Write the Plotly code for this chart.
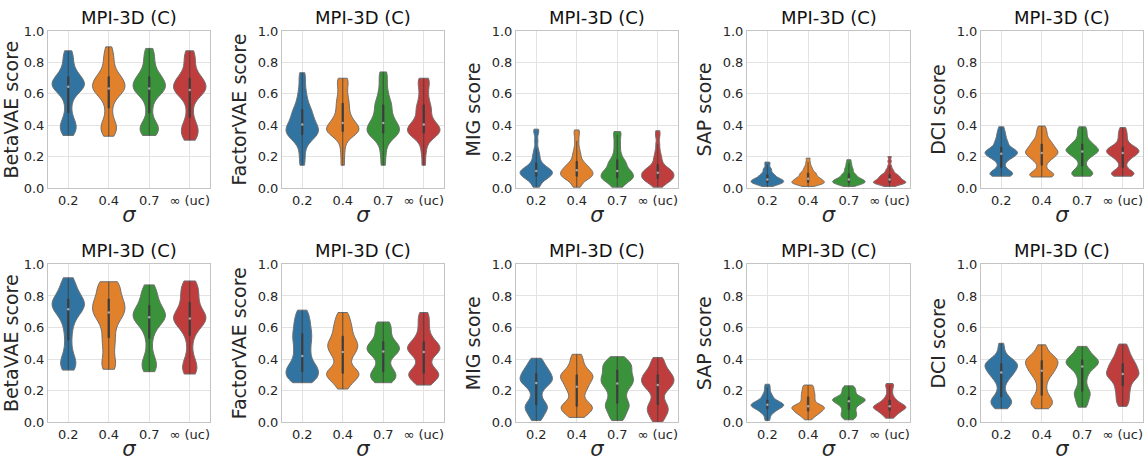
import statistics
import plotly.graph_objects as go

# Category labels along each x axis
sigma_labels = ["0.2", "0.4", "0.7", "∞ (uc)"]
colors = ["#3274a1", "#e1812c", "#3a923a", "#c03d3e"]

# Score samples per sigma setting (0.2, 0.4, 0.7, uncorrelated)
betavae_a = [
    [0.335, 0.35, 0.37, 0.39, 0.40, 0.415, 0.44, 0.48, 0.53, 0.57, 0.60, 0.62, 0.63, 0.635, 0.64, 0.65, 0.66, 0.665, 0.67, 0.68, 0.69, 0.70, 0.71, 0.72, 0.74, 0.76, 0.79, 0.82, 0.85, 0.875],
    [0.33, 0.35, 0.37, 0.39, 0.40, 0.42, 0.46, 0.51, 0.55, 0.58, 0.60, 0.61, 0.62, 0.625, 0.63, 0.64, 0.65, 0.66, 0.67, 0.68, 0.69, 0.70, 0.71, 0.72, 0.74, 0.77, 0.80, 0.83, 0.86, 0.90],
    [0.335, 0.345, 0.36, 0.38, 0.39, 0.40, 0.42, 0.48, 0.53, 0.57, 0.60, 0.61, 0.62, 0.625, 0.63, 0.64, 0.65, 0.66, 0.67, 0.68, 0.69, 0.70, 0.71, 0.725, 0.74, 0.77, 0.80, 0.83, 0.86, 0.89],
    [0.305, 0.32, 0.34, 0.36, 0.38, 0.39, 0.41, 0.45, 0.50, 0.55, 0.58, 0.60, 0.61, 0.615, 0.62, 0.63, 0.64, 0.65, 0.66, 0.67, 0.68, 0.69, 0.70, 0.71, 0.73, 0.76, 0.79, 0.82, 0.85, 0.875],
]
factorvae_a = [
    [0.145, 0.20, 0.25, 0.29, 0.31, 0.32, 0.33, 0.34, 0.35, 0.36, 0.365, 0.37, 0.38, 0.39, 0.40, 0.41, 0.42, 0.43, 0.45, 0.46, 0.47, 0.49, 0.50, 0.52, 0.54, 0.57, 0.60, 0.64, 0.69, 0.735],
    [0.145, 0.22, 0.28, 0.32, 0.34, 0.35, 0.355, 0.36, 0.365, 0.37, 0.375, 0.38, 0.39, 0.40, 0.41, 0.42, 0.43, 0.44, 0.46, 0.48, 0.50, 0.52, 0.54, 0.56, 0.58, 0.61, 0.64, 0.67, 0.69, 0.70],
    [0.145, 0.21, 0.26, 0.30, 0.32, 0.33, 0.34, 0.35, 0.36, 0.365, 0.37, 0.38, 0.39, 0.40, 0.41, 0.42, 0.43, 0.45, 0.46, 0.48, 0.50, 0.52, 0.53, 0.55, 0.57, 0.60, 0.63, 0.67, 0.71, 0.74],
    [0.145, 0.22, 0.27, 0.31, 0.33, 0.34, 0.345, 0.35, 0.355, 0.36, 0.37, 0.38, 0.39, 0.395, 0.40, 0.41, 0.42, 0.44, 0.46, 0.48, 0.50, 0.51, 0.53, 0.55, 0.58, 0.61, 0.64, 0.67, 0.69, 0.70],
]
mig_a = [
    [0.005, 0.02, 0.04, 0.05, 0.06, 0.065, 0.07, 0.075, 0.08, 0.085, 0.09, 0.095, 0.10, 0.10, 0.105, 0.11, 0.115, 0.12, 0.125, 0.13, 0.14, 0.15, 0.16, 0.18, 0.20, 0.22, 0.25, 0.30, 0.35, 0.375],
    [0.005, 0.02, 0.04, 0.05, 0.06, 0.065, 0.07, 0.075, 0.08, 0.085, 0.09, 0.095, 0.10, 0.105, 0.11, 0.115, 0.12, 0.13, 0.135, 0.14, 0.15, 0.16, 0.17, 0.19, 0.21, 0.23, 0.26, 0.30, 0.34, 0.37],
    [0.005, 0.015, 0.03, 0.04, 0.05, 0.055, 0.06, 0.065, 0.07, 0.075, 0.08, 0.09, 0.095, 0.10, 0.105, 0.11, 0.12, 0.13, 0.14, 0.15, 0.16, 0.17, 0.18, 0.20, 0.22, 0.25, 0.28, 0.31, 0.34, 0.36],
    [0.005, 0.015, 0.03, 0.04, 0.045, 0.05, 0.055, 0.06, 0.065, 0.07, 0.075, 0.08, 0.085, 0.09, 0.095, 0.10, 0.105, 0.11, 0.115, 0.12, 0.13, 0.14, 0.15, 0.17, 0.19, 0.21, 0.24, 0.28, 0.33, 0.365],
]
sap_a = [
    [0.01, 0.015, 0.02, 0.025, 0.028, 0.03, 0.032, 0.035, 0.037, 0.04, 0.042, 0.045, 0.048, 0.05, 0.052, 0.055, 0.058, 0.06, 0.065, 0.07, 0.075, 0.08, 0.085, 0.09, 0.10, 0.11, 0.12, 0.13, 0.15, 0.165],
    [0.01, 0.015, 0.02, 0.025, 0.028, 0.03, 0.032, 0.035, 0.038, 0.04, 0.043, 0.046, 0.05, 0.053, 0.056, 0.06, 0.064, 0.068, 0.072, 0.078, 0.085, 0.09, 0.095, 0.10, 0.11, 0.12, 0.13, 0.145, 0.165, 0.19],
    [0.01, 0.015, 0.02, 0.025, 0.028, 0.03, 0.032, 0.035, 0.038, 0.04, 0.042, 0.045, 0.048, 0.05, 0.053, 0.056, 0.06, 0.064, 0.068, 0.074, 0.08, 0.085, 0.09, 0.10, 0.11, 0.12, 0.13, 0.145, 0.16, 0.18],
    [0.01, 0.015, 0.02, 0.025, 0.028, 0.03, 0.032, 0.034, 0.036, 0.038, 0.04, 0.043, 0.046, 0.05, 0.053, 0.056, 0.06, 0.064, 0.068, 0.072, 0.076, 0.08, 0.085, 0.09, 0.10, 0.11, 0.12, 0.14, 0.17, 0.20],
]
dci_a = [
    [0.075, 0.08, 0.085, 0.09, 0.095, 0.10, 0.11, 0.13, 0.16, 0.18, 0.19, 0.20, 0.205, 0.21, 0.215, 0.22, 0.225, 0.23, 0.235, 0.24, 0.245, 0.25, 0.26, 0.28, 0.29, 0.30, 0.32, 0.34, 0.36, 0.39],
    [0.07, 0.075, 0.08, 0.085, 0.09, 0.10, 0.12, 0.145, 0.17, 0.18, 0.19, 0.20, 0.21, 0.215, 0.22, 0.225, 0.23, 0.24, 0.245, 0.25, 0.26, 0.27, 0.28, 0.285, 0.30, 0.31, 0.33, 0.35, 0.37, 0.395],
    [0.075, 0.08, 0.085, 0.09, 0.10, 0.11, 0.12, 0.14, 0.17, 0.19, 0.20, 0.21, 0.22, 0.225, 0.23, 0.235, 0.24, 0.245, 0.25, 0.255, 0.26, 0.27, 0.28, 0.285, 0.295, 0.31, 0.33, 0.35, 0.37, 0.39],
    [0.075, 0.08, 0.085, 0.09, 0.095, 0.10, 0.11, 0.13, 0.16, 0.18, 0.19, 0.20, 0.21, 0.215, 0.22, 0.225, 0.23, 0.235, 0.24, 0.245, 0.25, 0.255, 0.26, 0.27, 0.28, 0.30, 0.32, 0.34, 0.36, 0.385],
]
betavae_b = [
    [0.33, 0.345, 0.36, 0.38, 0.40, 0.42, 0.47, 0.52, 0.57, 0.61, 0.64, 0.67, 0.69, 0.70, 0.71, 0.72, 0.73, 0.74, 0.75, 0.76, 0.765, 0.77, 0.78, 0.80, 0.81, 0.83, 0.85, 0.87, 0.90, 0.915],
    [0.335, 0.35, 0.37, 0.40, 0.44, 0.48, 0.51, 0.535, 0.57, 0.60, 0.63, 0.65, 0.67, 0.68, 0.69, 0.70, 0.71, 0.72, 0.74, 0.75, 0.76, 0.77, 0.78, 0.80, 0.82, 0.84, 0.86, 0.875, 0.885, 0.89],
    [0.32, 0.335, 0.35, 0.37, 0.39, 0.41, 0.47, 0.53, 0.57, 0.60, 0.62, 0.635, 0.645, 0.655, 0.66, 0.67, 0.675, 0.68, 0.69, 0.70, 0.71, 0.72, 0.74, 0.75, 0.77, 0.79, 0.81, 0.83, 0.85, 0.87],
    [0.305, 0.32, 0.34, 0.36, 0.38, 0.42, 0.49, 0.55, 0.58, 0.60, 0.62, 0.63, 0.64, 0.65, 0.655, 0.66, 0.67, 0.68, 0.69, 0.70, 0.72, 0.74, 0.76, 0.78, 0.80, 0.82, 0.84, 0.86, 0.88, 0.895],
]
factorvae_b = [
    [0.25, 0.26, 0.27, 0.28, 0.29, 0.30, 0.31, 0.32, 0.33, 0.34, 0.35, 0.36, 0.37, 0.39, 0.41, 0.43, 0.45, 0.47, 0.49, 0.51, 0.53, 0.545, 0.56, 0.58, 0.60, 0.62, 0.64, 0.66, 0.69, 0.71],
    [0.21, 0.24, 0.26, 0.28, 0.29, 0.30, 0.305, 0.31, 0.32, 0.33, 0.35, 0.38, 0.41, 0.43, 0.44, 0.45, 0.47, 0.48, 0.49, 0.50, 0.51, 0.52, 0.545, 0.56, 0.58, 0.60, 0.62, 0.64, 0.67, 0.695],
    [0.25, 0.26, 0.27, 0.28, 0.29, 0.30, 0.31, 0.32, 0.33, 0.35, 0.38, 0.41, 0.43, 0.44, 0.445, 0.45, 0.46, 0.47, 0.475, 0.48, 0.49, 0.50, 0.51, 0.53, 0.55, 0.57, 0.59, 0.61, 0.625, 0.635],
    [0.235, 0.25, 0.27, 0.28, 0.29, 0.30, 0.305, 0.31, 0.32, 0.33, 0.35, 0.38, 0.41, 0.43, 0.44, 0.45, 0.46, 0.465, 0.47, 0.48, 0.49, 0.50, 0.51, 0.53, 0.55, 0.58, 0.61, 0.64, 0.67, 0.695],
]
mig_b = [
    [0.01, 0.03, 0.05, 0.07, 0.08, 0.09, 0.10, 0.11, 0.12, 0.14, 0.17, 0.20, 0.22, 0.24, 0.245, 0.25, 0.26, 0.27, 0.275, 0.28, 0.29, 0.30, 0.31, 0.32, 0.33, 0.34, 0.35, 0.37, 0.39, 0.405],
    [0.03, 0.04, 0.06, 0.07, 0.08, 0.09, 0.095, 0.10, 0.11, 0.12, 0.14, 0.17, 0.19, 0.21, 0.22, 0.23, 0.25, 0.26, 0.27, 0.28, 0.29, 0.30, 0.30, 0.31, 0.32, 0.34, 0.36, 0.38, 0.41, 0.43],
    [0.01, 0.03, 0.05, 0.07, 0.09, 0.10, 0.11, 0.12, 0.14, 0.16, 0.18, 0.20, 0.22, 0.23, 0.24, 0.25, 0.26, 0.27, 0.28, 0.29, 0.30, 0.31, 0.33, 0.34, 0.35, 0.36, 0.37, 0.38, 0.40, 0.415],
    [0.0, 0.02, 0.04, 0.06, 0.07, 0.08, 0.09, 0.11, 0.12, 0.14, 0.17, 0.20, 0.21, 0.22, 0.23, 0.24, 0.25, 0.26, 0.265, 0.27, 0.28, 0.29, 0.30, 0.31, 0.32, 0.33, 0.35, 0.37, 0.39, 0.41],
]
sap_b = [
    [0.01, 0.03, 0.05, 0.06, 0.07, 0.075, 0.08, 0.085, 0.09, 0.095, 0.10, 0.10, 0.105, 0.105, 0.11, 0.11, 0.115, 0.12, 0.12, 0.125, 0.13, 0.135, 0.14, 0.15, 0.16, 0.17, 0.18, 0.20, 0.22, 0.24],
    [0.015, 0.03, 0.04, 0.05, 0.055, 0.06, 0.065, 0.07, 0.075, 0.08, 0.085, 0.09, 0.09, 0.095, 0.10, 0.10, 0.105, 0.11, 0.12, 0.13, 0.14, 0.15, 0.16, 0.17, 0.18, 0.19, 0.20, 0.215, 0.225, 0.235],
    [0.015, 0.025, 0.035, 0.045, 0.05, 0.06, 0.07, 0.08, 0.09, 0.10, 0.11, 0.115, 0.12, 0.125, 0.13, 0.135, 0.14, 0.14, 0.145, 0.15, 0.15, 0.155, 0.16, 0.17, 0.18, 0.19, 0.20, 0.21, 0.22, 0.23],
    [0.025, 0.035, 0.045, 0.055, 0.06, 0.065, 0.07, 0.075, 0.08, 0.085, 0.09, 0.09, 0.095, 0.095, 0.10, 0.10, 0.105, 0.11, 0.115, 0.12, 0.125, 0.13, 0.14, 0.15, 0.16, 0.18, 0.20, 0.22, 0.235, 0.245],
]
dci_b = [
    [0.085, 0.10, 0.11, 0.12, 0.13, 0.14, 0.15, 0.16, 0.19, 0.23, 0.26, 0.28, 0.29, 0.30, 0.31, 0.32, 0.33, 0.34, 0.345, 0.35, 0.36, 0.365, 0.37, 0.38, 0.385, 0.39, 0.40, 0.42, 0.46, 0.50],
    [0.085, 0.10, 0.11, 0.12, 0.13, 0.14, 0.155, 0.17, 0.20, 0.23, 0.26, 0.28, 0.30, 0.31, 0.32, 0.33, 0.34, 0.35, 0.36, 0.37, 0.375, 0.38, 0.39, 0.40, 0.405, 0.41, 0.42, 0.44, 0.47, 0.49],
    [0.095, 0.11, 0.13, 0.15, 0.17, 0.18, 0.19, 0.195, 0.22, 0.25, 0.28, 0.30, 0.32, 0.34, 0.35, 0.355, 0.36, 0.37, 0.375, 0.38, 0.385, 0.39, 0.395, 0.40, 0.41, 0.42, 0.43, 0.45, 0.47, 0.48],
    [0.10, 0.12, 0.14, 0.16, 0.18, 0.20, 0.22, 0.23, 0.25, 0.27, 0.28, 0.29, 0.295, 0.30, 0.30, 0.31, 0.32, 0.33, 0.34, 0.35, 0.36, 0.365, 0.37, 0.39, 0.40, 0.41, 0.43, 0.45, 0.47, 0.495],
]

# (metric label, samples, kde bandwidth) per panel, row by row
panels = [
    ("BetaVAE score", betavae_a, 0.04),
    ("FactorVAE score", factorvae_a, 0.035),
    ("MIG score", mig_a, 0.02),
    ("SAP score", sap_a, 0.01),
    ("DCI score", dci_a, 0.02),
    ("BetaVAE score", betavae_b, 0.045),
    ("FactorVAE score", factorvae_b, 0.035),
    ("MIG score", mig_b, 0.03),
    ("SAP score", sap_b, 0.015),
    ("DCI score", dci_b, 0.03),
]

W, H = 1146, 464
col_px = [(48, 210), (282, 444), (516, 678), (747, 910), (981, 1143)]
row_px = [(25, 187), (266, 429)]

FONT = "DejaVu Sans"
TEXT = "#262626"
GRID = "#e3e3e3"
FRAME = "#c4c4c4"
INNER = "#3d3d3d"

fig = go.Figure()
annotations = []

for i, (ylabel, groups, bw) in enumerate(panels):
    n = i + 1
    r, c = divmod(i, 5)
    x0, x1 = col_px[c]
    y0, y1 = row_px[r]
    xa, ya = f"x{n}", f"y{n}"

    for j, samples in enumerate(groups):
        fig.add_trace(go.Violin(
            x=[j] * len(samples), y=samples,
            xaxis=xa, yaxis=ya,
            width=0.8, scalemode="width", spanmode="hard", bandwidth=bw,
            fillcolor=colors[j], opacity=1,
            line=dict(color="#6e6e6e", width=1),
            points=False,
            box=dict(visible=True, width=0.045, fillcolor=INNER,
                     line=dict(color=INNER, width=0.8)),
            meanline=dict(visible=False),
            showlegend=False, hoverinfo="skip",
        ))
    # median markers on the inner boxes
    fig.add_trace(go.Scatter(
        x=list(range(len(groups))),
        y=[statistics.median(s) for s in groups],
        xaxis=xa, yaxis=ya, mode="markers",
        marker=dict(size=2.5, color="#a8a8a8", line=dict(width=0)),
        showlegend=False, hoverinfo="skip",
    ))

    axis_common = dict(
        showgrid=True, gridcolor=GRID, gridwidth=1,
        showline=True, mirror=True, linecolor=FRAME, linewidth=1,
        zeroline=False, ticks="",
        tickfont=dict(family=FONT, size=13, color=TEXT),
    )
    fig.layout[f"xaxis{n}"] = dict(
        axis_common,
        domain=[x0 / W, x1 / W], anchor=ya,
        range=[-0.5, 3.5], tickvals=[0, 1, 2, 3], ticktext=sigma_labels,
        title=dict(text="<i>σ</i>", font=dict(family=FONT, size=21, color=TEXT), standoff=0),
    )
    fig.layout[f"yaxis{n}"] = dict(
        axis_common,
        domain=[1 - y1 / H, 1 - y0 / H], anchor=xa,
        range=[0, 1], tickvals=[0, 0.2, 0.4, 0.6, 0.8, 1.0], tickformat=".1f",
        title=dict(text=ylabel, font=dict(family=FONT, size=19, color=TEXT), standoff=6),
    )
    annotations.append(dict(
        text="MPI-3D (C)", xref="paper", yref="paper",
        x=(x0 + x1) / 2 / W, y=1 - y0 / H, xanchor="center", yanchor="bottom",
        yshift=1, showarrow=False,
        font=dict(family=FONT, size=18, color="#111111"),
    ))

fig.update_layout(
    width=W, height=H,
    margin=dict(l=0, r=0, t=0, b=0),
    paper_bgcolor="white", plot_bgcolor="white",
    violinmode="overlay",
    annotations=annotations,
    font=dict(family=FONT, color=TEXT),
)

fig.write_html("out.html")
